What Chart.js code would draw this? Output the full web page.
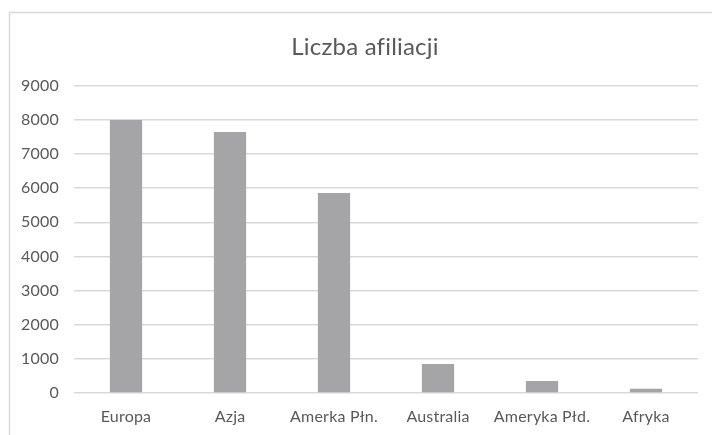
<!DOCTYPE html>
<html>
<head>
<meta charset="utf-8">
<script src="https://cdn.jsdelivr.net/npm/chart.js@4/dist/chart.umd.min.js"></script>
<style>
html,body{margin:0;padding:0;background:#fff;}
canvas{display:block;}
</style>
</head>
<body>
<canvas id="c" width="712" height="435"></canvas>
<script>
const categories = ["Europa", "Azja", "Amerka Płn.", "Australia", "Ameryka Płd.", "Afryka"];
const values = [8000, 7650, 5860, 850, 350, 125];
const yTicks = [0, 1000, 2000, 3000, 4000, 5000, 6000, 7000, 8000, 9000];
const chartTitle = "Liczba afiliacji";

const textColor = "#595959";
const gridColor = "#d9d9d9";

const frame = {
  id: "frame",
  beforeDraw(chart) {
    const ctx = chart.ctx;
    ctx.save();
    ctx.fillStyle = "#fff";
    ctx.fillRect(0, 0, chart.width, chart.height);
    ctx.strokeStyle = gridColor;
    ctx.lineWidth = 1.5;
    ctx.beginPath();
    ctx.moveTo(9.5, chart.height + 5);
    ctx.lineTo(9.5, 12.5);
    ctx.lineTo(chart.width + 5, 12.5);
    ctx.stroke();
    ctx.restore();
    // avoid "fi" ligatures, as in the reference
    if ("letterSpacing" in ctx) ctx.letterSpacing = "0.2px";
  }
};

new Chart(document.getElementById("c"), {
  type: "bar",
  data: {
    labels: categories,
    datasets: [{
      data: values,
      backgroundColor: "#a5a5a7",
      barPercentage: 0.31,
      categoryPercentage: 1.0
    }]
  },
  options: {
    responsive: false,
    devicePixelRatio: 1,
    animation: false,
    layout: { padding: { left: 18, right: 0, top: 0, bottom: 0 } },
    plugins: {
      legend: { display: false },
      tooltip: { enabled: false },
      title: {
        display: true,
        text: chartTitle,
        color: textColor,
        font: { family: "Lato", size: 24, weight: "normal" },
        padding: { top: 33, bottom: 24 }
      }
    },
    scales: {
      x: {
        grid: { display: false, drawTicks: false },
        border: { display: false },
        ticks: {
          color: textColor,
          font: { family: "Lato", size: 16 },
          padding: 14,
          maxRotation: 0
        },
        afterFit(s) { s.height = 42; }
      },
      y: {
        min: 0,
        max: 9000,
        afterBuildTicks(s) { s.ticks = yTicks.map(v => ({ value: v })); },
        grid: { color: gridColor, lineWidth: 1.5, drawTicks: false },
        border: { display: false },
        ticks: {
          color: textColor,
          font: { family: "Lato", size: 16 },
          padding: 15,
          callback: v => String(v)
        },
        afterFit(s) { s.width = 56; }
      },
      yr: {
        position: "right",
        display: true,
        grid: { display: false, drawTicks: false },
        border: { display: false },
        ticks: { display: false },
        afterFit(s) { s.width = 14; }
      }
    }
  },
  plugins: [frame]
});
</script>
</body>
</html>
